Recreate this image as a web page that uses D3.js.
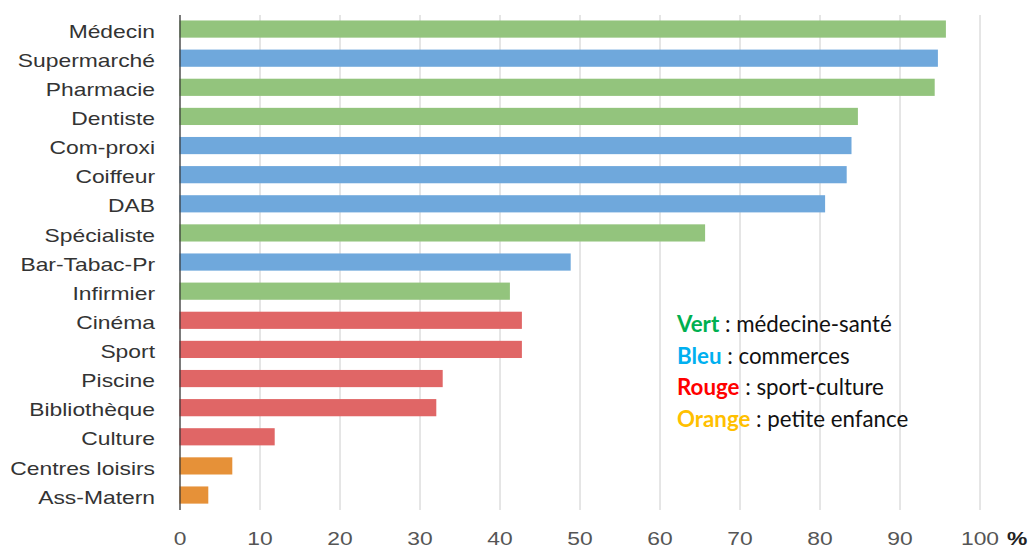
<!DOCTYPE html>
<html>
<head>
<meta charset="utf-8">
<script src="https://cdn.jsdelivr.net/npm/d3@7"></script>
<style>
  body { margin: 0; background: #fff; }
  svg { display: block; }
</style>
</head>
<body>
<svg id="chart"></svg>
<script>
// categories, from top to bottom
var categories = ["Médecin", "Supermarché", "Pharmacie", "Dentiste", "Com-proxi", "Coiffeur", "DAB",
  "Spécialiste", "Bar-Tabac-Pr", "Infirmier", "Cinéma", "Sport", "Piscine", "Bibliothèque",
  "Culture", "Centres loisirs", "Ass-Matern"];
var values = [95.8, 94.8, 94.4, 84.8, 84.0, 83.4, 80.7, 65.7, 48.9, 41.3, 42.8, 42.8, 32.9, 32.1, 11.9, 6.6, 3.6];
var groups = ["sante", "commerce", "sante", "sante", "commerce", "commerce", "commerce", "sante", "commerce",
  "sante", "sport", "sport", "sport", "sport", "sport", "enfance", "enfance"];
var xTicks = [0, 10, 20, 30, 40, 50, 60, 70, 80, 90, 100];
var legendWords = ["Vert", "Bleu", "Rouge", "Orange"];
var legendTexts = [" : médecine-santé", " : commerces", " : sport-culture", " : petite enfance"];

var barColor = {sante: "#93c47d", commerce: "#6fa8dc", sport: "#e06666", enfance: "#e69138"};
var legendColor = ["#00b050", "#00b0f0", "#ff0000", "#ffc000"];

var W = 1030, H = 547;
var sx = 1.27; // the picture is stretched sideways
var font = "'Liberation Sans', Arial, sans-serif";

var svg = d3.select("#chart").attr("width", W).attr("height", H);

var x = d3.scaleLinear().domain([0, 100]).range([179.5, 979.5]);
var y = d3.scaleBand()
  .domain(categories)
  .range([14.5, 509.6])
  .paddingInner(0.41)
  .paddingOuter(0.205);

// grid + tick labels
var gx = svg.append("g")
  .attr("transform", "translate(0,510)")
  .call(d3.axisBottom(x).tickValues(xTicks).tickSize(-495).tickPadding(22).tickFormat(function(d) { return d; }));
gx.select(".domain").remove();
gx.selectAll(".tick line").attr("stroke", "#cccccc").attr("stroke-width", 1);
gx.selectAll(".tick text")
  .attr("fill", "#555")
  .style("font-family", font)
  .style("font-size", "18px")
  .attr("transform", "scale(" + sx + ",1)");

svg.append("text")
  .attr("transform", "translate(1007,545) scale(" + sx + ",1)")
  .style("font-family", font)
  .style("font-size", "18px")
  .style("font-weight", "bold")
  .attr("fill", "#222")
  .text("%");

// bars
svg.selectAll(".bar")
  .data(categories)
  .enter()
  .append("rect")
  .attr("class", "bar")
  .attr("x", x(0))
  .attr("y", function(d) { return y(d); })
  .attr("width", function(d, i) { return x(values[i]) - x(0); })
  .attr("height", y.bandwidth())
  .attr("fill", function(d, i) { return barColor[groups[i]]; });

// left axis
var gy = svg.append("g")
  .attr("transform", "translate(" + x(0) + ",0)")
  .call(d3.axisLeft(y).tickSize(0).tickPadding(0));
gy.select(".domain").attr("d", "M0.5,15V510").attr("stroke", "#333").attr("stroke-width", 1.2);
gy.selectAll(".tick text")
  .attr("x", -24.5 / sx)
  .attr("dy", "0.48em")
  .attr("fill", "#333")
  .style("font-family", font)
  .style("font-size", "18px")
  .attr("transform", "scale(" + sx + ",1)");

// legend
var legend = svg.append("g").attr("transform", "translate(677,332)");
legendWords.forEach(function(w, i) {
  var t = legend.append("text")
    .attr("y", i * 31.7)
    .style("font-family", "Lato, 'Open Sans', sans-serif")
    .style("font-size", "22.3px");
  t.append("tspan").attr("fill", legendColor[i]).style("font-weight", "bold").text(w);
  t.append("tspan").attr("fill", "#111").text(legendTexts[i]);
});
</script>
</body>
</html>
